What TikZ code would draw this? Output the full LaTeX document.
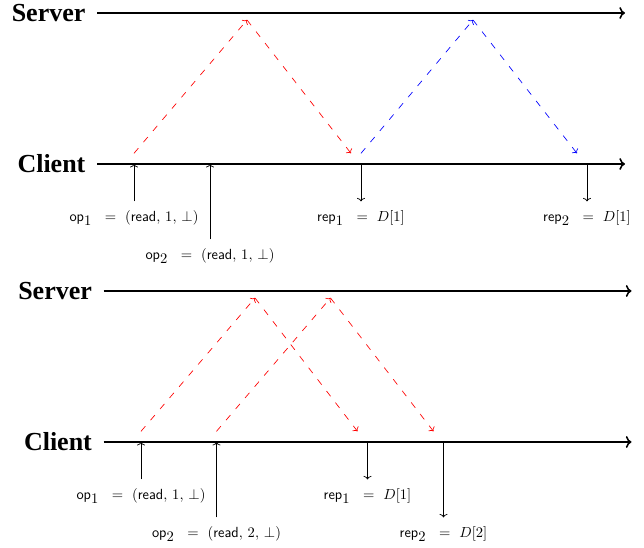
\documentclass[tikz,border=0pt]{standalone}
\usepackage{fontspec}
\newfontfamily\rolefont{Liberation Serif}
\usetikzlibrary{arrows.meta}

\begin{document}
\begin{tikzpicture}[
 x=.75pt,y=.75pt,
 axis/.style={line width=1.2pt,->},
 event/.style={line width=.55pt,-{To[length=2.6pt,width=6pt]}},
 msg/.style={line width=.5pt,->,dash pattern=on 5pt off 6pt},
 role/.style={anchor=east,font=\rolefont\bfseries\fontsize{19.5}{22}\selectfont,inner xsep=8.5pt,inner ysep=0pt},
 lbl/.style={font=\fontsize{11}{13}\selectfont,inner xsep=0pt,inner ysep=6.5pt}]
 \useasboundingbox (0,0) rectangle (644,548);
 % First run: both reads answered with D[1].
 \begin{scope}[shift={(97,384)}]
  \node[role] (srvA) at (0,151) {Server};
  \node[role] (cliA) at (0,0) {Client};
  \coordinate (srvAend) at (528,151); \coordinate (cliAend) at (528,0);
  \draw[axis] (srvA)--(srvAend);
  \draw[axis] (cliA)--(cliAend);
  \coordinate (a1) at (37,0); \coordinate (a2) at (113,0);
  \coordinate (b1) at (264,0); \coordinate (b2) at (490,0);
  \node[lbl] (opA1) at (37,-54){$\mathsf{op}_{\textstyle 1}\;~=~(\mathsf{read},\,1,\,\bot)$};
  \node[lbl] (opA2) at (113,-92){$\mathsf{op}_{\textstyle 2}\;~=~(\mathsf{read},\,1,\,\bot)$};
  \node[lbl] (repA1) at (264,-54){$\mathsf{rep}_{\textstyle 1}\;~=~D[1]$};
  \node[lbl] (repA2) at (490,-54){$\mathsf{rep}_{\textstyle 2}\;~=~D[1]$};
  \draw[event] (opA1)--(a1); \draw[event] (opA2)--(a2);
  \draw[event] (b1)--(repA1); \draw[event] (b2)--(repA2);
  % messages
  \coordinate (pA1) at (150,144); \coordinate (pA2) at (376,144);
  \draw[msg,red] ([yshift=8]a1)--(pA1);
  \draw[msg,red] (pA1)--([xshift=-7.5,yshift=8]b1);
  \draw[msg,blue] ([yshift=8]b1)--(pA2);
  \draw[msg,blue] (pA2)--([xshift=-7.5,yshift=8]b2);
 \end{scope}
 % Second run: the two reads overlap.
 \begin{scope}[shift={(103.5,106)}]
  \node[role] (srvB) at (0,151) {Server};
  \node[role] (cliB) at (0,0) {Client};
  \coordinate (srvBend) at (528,151); \coordinate (cliBend) at (528,0);
  \draw[axis] (srvB)--(srvBend);
  \draw[axis] (cliB)--(cliBend);
  \coordinate (a1) at (37.5,0); \coordinate (a2) at (113,0);
  \coordinate (b1) at (264,0); \coordinate (b2) at (340,0);
  \node[lbl] (opB1) at (37.5,-54){$\mathsf{op}_{\textstyle 1}\;~=~(\mathsf{read},\,1,\,\bot)$};
  \node[lbl] (opB2) at (113,-92){$\mathsf{op}_{\textstyle 2}\;~=~(\mathsf{read},\,2,\,\bot)$};
  \node[lbl] (repB1) at (264,-54){$\mathsf{rep}_{\textstyle 1}\;~=~D[1]$};
  \node[lbl] (repB2) at (340,-92){$\mathsf{rep}_{\textstyle 2}\;~=~D[2]$};
  \draw[event] (opB1)--(a1); \draw[event] (opB2)--(a2);
  \draw[event] (b1)--(repB1); \draw[event] (b2)--(repB2);
  % messages
  \coordinate (pB1) at (151.5,144); \coordinate (pB2) at (227,144);
  \draw[msg,red] ([yshift=8]a1)--(pB1);
  \draw[msg,red] (pB1)--([xshift=-7.5,yshift=8]b1);
  \draw[msg,red] ([yshift=8]a2)--(pB2);
  \draw[msg,red] (pB2)--([xshift=-7.5,yshift=8]b2);
 \end{scope}
\end{tikzpicture}
\end{document}
